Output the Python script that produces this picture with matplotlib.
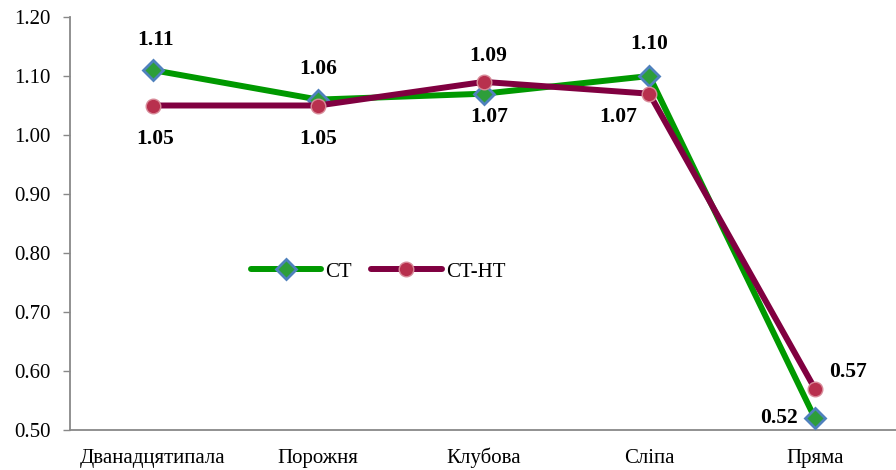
import matplotlib

matplotlib.use("Agg")
import matplotlib.pyplot as plt

categories = ["Дванадцятипала", "Порожня", "Клубова", "Сліпа", "Пряма"]
ct = [1.11, 1.06, 1.07, 1.10, 0.52]
ct_ht = [1.05, 1.05, 1.09, 1.07, 0.57]
y_ticks = [0.50, 0.60, 0.70, 0.80, 0.90, 1.00, 1.10, 1.20]

# label offsets in points (dx, dy, ha)
ct_offsets = [(2, 22, "center"), (0, 22, "center"), (4, -17, "center"), (0, 23, "center"), (-12, 0, "right")]
ht_offsets = [(2, -24, "center"), (0, -24, "center"), (3, 19, "center"), (-9, -17, "right"), (10, 12, "left")]

plt.rcParams["font.family"] = ["Liberation Serif", "DejaVu Serif"]

fig = plt.figure(figsize=(8.96, 4.70), dpi=100)
ax = fig.add_axes([70 / 896, 40 / 470, 826 / 896, 413 / 470])

x = list(range(len(categories)))
ax.plot(x, ct, color="#009900", lw=4.3, solid_capstyle="round", marker="D", ms=10,
        mfc="#2E9E3A", mec="#4F81BD", mew=2.0, label="CT", zorder=3)
ax.plot(x, ct_ht, color="#800040", lw=4.3, solid_capstyle="round", marker="o", ms=10.5,
        mfc="#B8304E", mec="#D88A98", mew=1.0, label="CT-HT", zorder=4)

for xi, val, (dx, dy, ha) in zip(x, ct, ct_offsets):
    ax.annotate(f"{val:.2f}", (xi, val), xytext=(dx, dy), textcoords="offset points",
                ha=ha, va="center", fontsize=15.5, fontweight="bold")
for xi, val, (dx, dy, ha) in zip(x, ct_ht, ht_offsets):
    ax.annotate(f"{val:.2f}", (xi, val), xytext=(dx, dy), textcoords="offset points",
                ha=ha, va="center", fontsize=15.5, fontweight="bold")

ax.set_xlim(-0.5, 4.49)
ax.set_ylim(0.50, 1.20)
ax.set_yticks(y_ticks)
ax.set_yticklabels([f"{v:.2f}" for v in y_ticks])
ax.set_xticks(x)
ax.set_xticklabels(categories)
ax.tick_params(axis="y", length=5, width=1, color="#888888", pad=9, labelsize=15)
ax.tick_params(axis="x", length=0, pad=24, labelsize=15)
for lbl in ax.get_xticklabels():
    lbl.set_va("baseline")
for side in ["top", "right"]:
    ax.spines[side].set_visible(False)
for side in ["left", "bottom"]:
    ax.spines[side].set_color("#888888")
    ax.spines[side].set_linewidth(1.3)

ax.legend(loc="center", bbox_to_anchor=(378 / 896, 1 - 272 / 470), bbox_transform=fig.transFigure,
          ncol=2, frameon=False, fontsize=15, handlelength=3.4, handletextpad=0.2,
          columnspacing=0.9)

fig.savefig("out.png", dpi=100)
